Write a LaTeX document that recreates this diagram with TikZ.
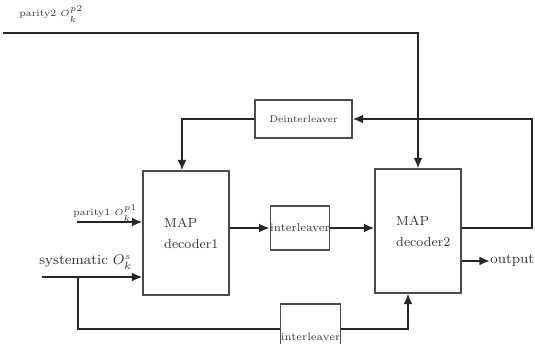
\documentclass[tikz,border=0pt]{standalone}
\usetikzlibrary{arrows.meta}
\begin{document}
\begin{tikzpicture}[x=0.02cm,y=-0.02cm,
    blk/.style={draw=black!70, line width=0.6pt, inner sep=0pt, text=black!80},
    wire/.style={line width=1.1pt, draw=black!85},
    lbl/.style={inner sep=0pt, text=black!80},
    >={Latex[length=6pt,width=5pt]}]
  \useasboundingbox (0,0) rectangle (535,343);
  % decoders and (de)interleavers
  \node[blk, minimum width=1.72cm, minimum height=2.48cm, align=left, font=\fontsize{7.5}{9}\selectfont] (dec1) at (186,233) {\hspace*{6pt}MAP\\[3pt]\hspace*{6pt}decoder1};
  \node[blk, minimum width=1.72cm, minimum height=2.48cm, align=left, font=\fontsize{7.5}{9}\selectfont] (dec2) at (418,231) {\hspace*{6pt}MAP\\[3pt]\hspace*{6pt}decoder2};
  \node[blk, minimum width=1.12cm, minimum height=0.88cm, font=\fontsize{6.5}{8}\selectfont] (int1) at (300,228) {interleaver};
  \node[blk, minimum width=1.94cm, minimum height=0.76cm, font=\fontsize{5.5}{7}\selectfont] (deint) at (303.5,119) {Deinterleaver};
  \node[blk, minimum width=1.14cm, minimum height=1.32cm, font=\fontsize{6}{7}\selectfont] (int2) at (310.5,337) {interleaver};
  % input labels
  \node[lbl, anchor=west, font=\fontsize{5.5}{7}\selectfont] (p2lbl) at (19,14) {parity2 $O_k^{\scriptscriptstyle p2}$};
  \node[lbl, anchor=west, font=\fontsize{5.5}{7}\selectfont] (p1lbl) at (73,213) {parity1 $O_k^{\scriptscriptstyle p1}$};
  \node[lbl, anchor=west, font=\fontsize{8}{9}\selectfont] (syslbl) at (39,262) {systematic $O_k^{\scriptscriptstyle s}$};
  \node[lbl, anchor=west, font=\fontsize{8}{9}\selectfont] (out) at (490,261) {output};
  \coordinate (p2in) at (3,33);
  \coordinate (p1in) at (77,222);
  \coordinate (sysin) at (42,277);
  \coordinate (tap) at (78,277);
  \coordinate (lowrun) at (78,329);
  \coordinate (fbR) at (532,228);
  % connectors
  \draw[wire,->] (p2in) -| (dec2.north);
  \draw[wire,->] (p1in) -- (p1in -| dec1.west);
  \draw[wire,->] (sysin) -- (sysin -| dec1.west);
  \draw[wire] (tap) -- (lowrun) -- (lowrun -| int2.west);
  \draw[wire,->] (lowrun -| int2.east) -| ([xshift=-0.2cm]dec2.south);
  \draw[wire,->] (dec1.east |- int1.west) -- (int1.west);
  \draw[wire,->] (int1.east) -- (int1.east -| dec2.west);
  \draw[wire,->] (dec2.east |- fbR) -- (fbR) |- (deint.east);
  \draw[wire,->] (deint.west) -| ([xshift=-0.08cm]dec1.north);
  \draw[wire,->] (dec2.east |- out.west) -- (out.west);
\end{tikzpicture}
\end{document}
